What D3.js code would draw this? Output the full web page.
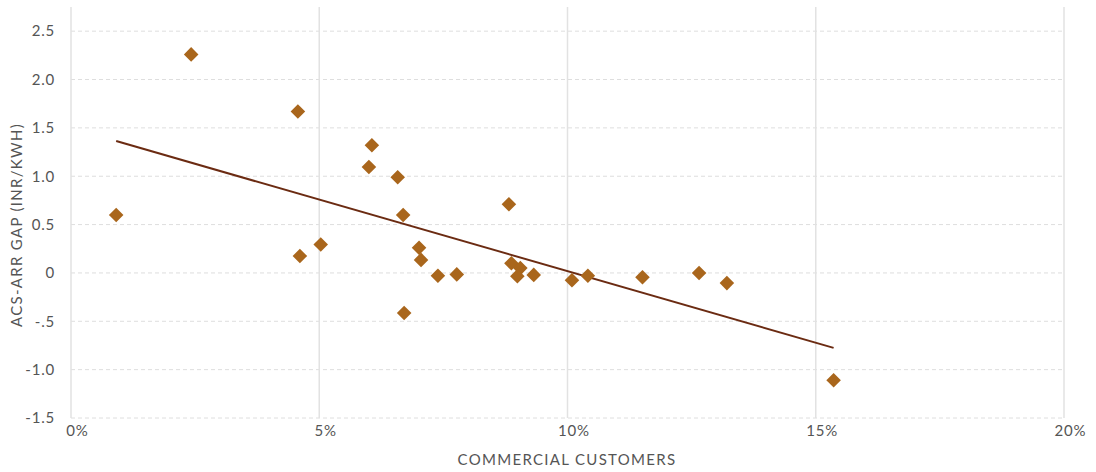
<!doctype html>
<html lang="en">
<head>
<meta charset="utf-8">
<script src="https://cdnjs.cloudflare.com/ajax/libs/d3/7.8.5/d3.min.js"></script>
<style>
  body { margin: 0; background: #fff; font-family: 'Lato', sans-serif; }
  .tick text { fill: #555; font-size: 15px; font-family: 'Lato', sans-serif; letter-spacing: 0.8px; }
  .axis-title { fill: #555; font-size: 15px; letter-spacing: 1.3px; }
</style>
</head>
<body>
<script>
// Share of commercial customers (%) and ACS-ARR gap (INR/kWh)
const commercialPct = [0.91, 2.42, 4.57, 4.61, 5.03, 6.06, 6.0, 6.58, 6.69, 6.71, 7.01, 7.05, 7.39, 7.77,
  8.82, 8.87, 9.05, 8.99, 9.32, 10.09, 10.41, 11.51, 12.65, 13.21, 15.36];
const gapValues = [0.60, 2.26, 1.67, 0.175, 0.295, 1.32, 1.095, 0.99, 0.60, -0.415, 0.26, 0.135, -0.03, -0.015,
  0.71, 0.10, 0.05, -0.035, -0.02, -0.075, -0.03, -0.045, 0.0, -0.105, -1.11];
// trend line end points
const trendX = [0.91, 15.36];
const trendY = [1.364, -0.775];

const yTicks = [-1.5, -1.0, -0.5, 0, 0.5, 1.0, 1.5, 2.0, 2.5];
const yTickLabels = ["-1.5", "-1.0", "-.5", "0", "0.5", "1.0", "1.5", "2.0", "2.5"];
const xTicks = [0, 5, 10, 15, 20];

const w = 1096, h = 472;
const padLeft = 71, padRight = 1064, padTop = 7, padBottom = 418;

const svg = d3.select("body").append("svg").attr("width", w).attr("height", h);

const xScale = d3.scaleLinear().domain([0, 20]).range([padLeft, padRight]);
const yScale = d3.scaleLinear().domain([-1.5, 2.75]).range([padBottom, padTop]);

// horizontal dashed grid
svg.append("g")
  .selectAll("line")
  .data(yTicks)
  .join("line")
  .attr("x1", padLeft).attr("x2", padRight)
  .attr("y1", d => yScale(d)).attr("y2", d => yScale(d))
  .attr("stroke", "#dedede")
  .attr("stroke-dasharray", "4,3");

// vertical grid
svg.append("g")
  .selectAll("line")
  .data(xTicks)
  .join("line")
  .attr("x1", d => xScale(d)).attr("x2", d => xScale(d))
  .attr("y1", padTop).attr("y2", padBottom)
  .attr("stroke", "#e2e2e2")
  .attr("stroke-width", 1.5);

// axes
const yAxis = d3.axisLeft(yScale).tickValues(yTicks).tickSize(0).tickPadding(16)
  .tickFormat((d, i) => yTickLabels[i]);
svg.append("g").attr("transform", "translate(" + padLeft + ",0)").call(yAxis)
  .call(g => g.select(".domain").remove());

const xAxis = d3.axisBottom(xScale).tickValues(xTicks).tickSize(0).tickPadding(7)
  .tickFormat(d => d + "%");
svg.append("g").attr("transform", "translate(6," + padBottom + ")").call(xAxis)
  .call(g => g.select(".domain").remove());

// trend line
svg.append("line")
  .attr("x1", xScale(trendX[0])).attr("y1", yScale(trendY[0]))
  .attr("x2", xScale(trendX[1])).attr("y2", yScale(trendY[1]))
  .attr("stroke", "#6b2b12")
  .attr("stroke-width", 2);

// points
const diamond = d3.symbol().type(d3.symbolSquare).size(106);
svg.append("g")
  .selectAll("path")
  .data(commercialPct.map((x, i) => [x, gapValues[i]]))
  .join("path")
  .attr("d", diamond)
  .attr("transform", d => "translate(" + xScale(d[0]) + "," + yScale(d[1]) + ") rotate(45)")
  .attr("fill", "#a9661c");

// axis titles
svg.append("text")
  .attr("class", "axis-title")
  .attr("x", 567)
  .attr("y", 465)
  .attr("text-anchor", "middle")
  .text("COMMERCIAL CUSTOMERS");

svg.append("text")
  .attr("class", "axis-title")
  .attr("transform", "rotate(-90)")
  .attr("x", -225)
  .attr("y", 22)
  .attr("text-anchor", "middle")
  .text("ACS-ARR GAP (INR/KWH)");
</script>
</body>
</html>
